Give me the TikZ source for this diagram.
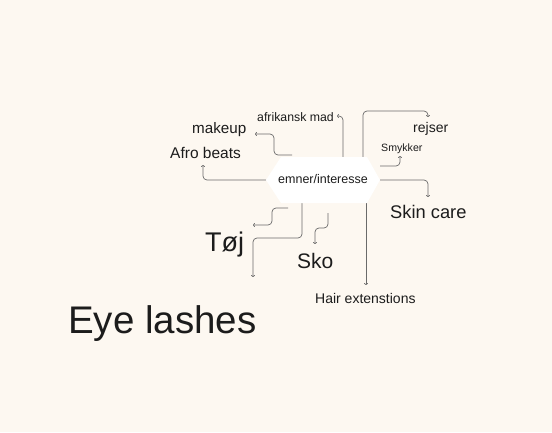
\documentclass[tikz,border=0pt]{standalone}
\usepackage{fontspec}
\setmainfont{Liberation Sans}
\usetikzlibrary{arrows.meta}
\definecolor{bg}{HTML}{FDF8F1}
\definecolor{ink}{HTML}{1C1C1C}
\definecolor{wire}{HTML}{6A6A6A}
\begin{document}
\begin{tikzpicture}[x=1pt,y=-1pt,
  lbl/.style={inner sep=0pt,anchor=base west,text=ink},
  link/.style={draw=wire,line width=0.7pt,rounded corners=4pt,-{To[length=2pt,width=4pt]}},
  hexfill/.style={fill=white}]
\useasboundingbox (0,0) rectangle (552,432);
\fill[bg] (0,0) rectangle (552,432);
% hub anchor coordinates
\coordinate (hW) at (266,180);
\coordinate (hE) at (380,180);
\coordinate (hE2) at (380,166);
\coordinate (hTmk) at (292,155);
\coordinate (hTaf) at (343,160);
\coordinate (hTrj) at (363,160);
\coordinate (hBtj) at (302,200);
\coordinate (hBhr) at (366,200);
\coordinate (sTj) at (288,208);
\coordinate (sSk) at (328,213);
% arrow ends
\coordinate (eAfro) at (203,165);
\coordinate (eMake) at (255,134);
\coordinate (eAfri) at (337,116);
\coordinate (eRej) at (428,117);
\coordinate (eSmy) at (400,156);
\coordinate (eSkin) at (428,197);
\coordinate (eTj1) at (253,225);
\coordinate (eTj2) at (253,277);
\coordinate (eSko) at (315,244);
\coordinate (eHair) at (366,285);
% connectors
\draw[link] (hW) -- (eAfro |- hW) -- (eAfro);
\draw[link] (hTmk) -- (274,155) -- (274,134) -- (eMake);
\draw[link] (hTaf) -- (343,116) -- (eAfri);
\draw[link] (hTrj) -- (363,111) -- (428,111) -- (eRej);
\draw[link] (hE2) -- (eSmy |- hE2) -- (eSmy);
\draw[link] (hE) -- (eSkin |- hE) -- (eSkin);
\draw[link] (sTj) -- (272,208) -- (272,225) -- (eTj1);
\draw[link] (hBtj) -- (302,238) -- (253,238) -- (eTj2);
\draw[link] (sSk) -- (328,228) -- (315,228) -- (eSko);
\draw[link] (hBhr) -- (eHair);
% hub shape
\fill[hexfill] (266,180) -- (281,157) -- (367,157) -- (380,180) -- (367,203) -- (281,203) -- cycle;
\node[lbl,anchor=base] (hub) at (323,183) {\fontsize{12.5}{15}\selectfont emner/interesse};
% labels
\node[lbl] (afri) at (257,121) {\fontsize{12.3}{15}\selectfont afrikansk mad};
\node[lbl] (make) at (192,133) {\fontsize{15.2}{18}\selectfont makeup};
\node[lbl] (afro) at (170,158) {\fontsize{15.5}{18}\selectfont Afro beats};
\node[lbl] (rej) at (413,132) {\fontsize{14}{17}\selectfont rejser};
\node[lbl] (smy) at (381,151) {\fontsize{10.6}{13}\selectfont Smykker};
\node[lbl] (skin) at (390,218) {\fontsize{18.3}{22}\selectfont Skin care};
\node[lbl] (toj) at (205,251) {\fontsize{27}{32}\selectfont Tøj};
\node[lbl] (sko) at (297,268) {\fontsize{21}{25}\selectfont Sko};
\node[lbl] (hair) at (315,303) {\fontsize{14}{17}\selectfont Hair extenstions};
\node[lbl] (eye) at (68,333) {\fontsize{38.5}{46}\selectfont Eye lashes};
\end{tikzpicture}
\end{document}
